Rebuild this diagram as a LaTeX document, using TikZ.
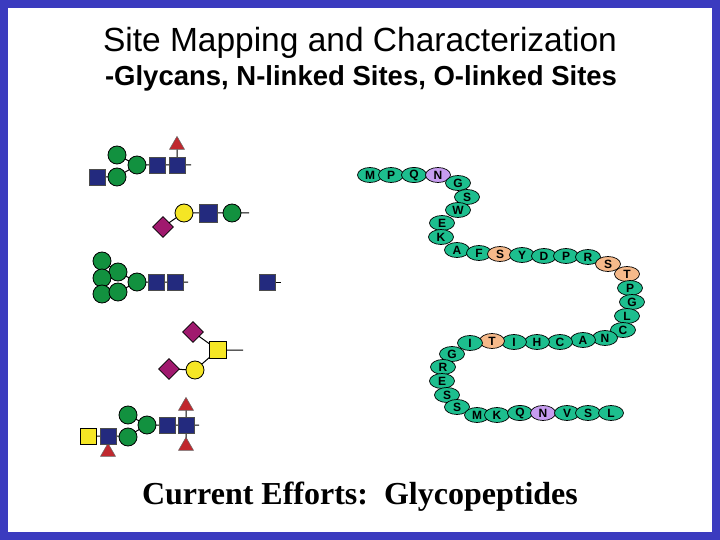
\documentclass[tikz,border=0pt]{standalone}
\usepackage{fontspec}
\setmainfont{Liberation Sans}
\newfontfamily\timesf{Liberation Serif}
\usetikzlibrary{shapes.geometric}
\definecolor{frame}{HTML}{3B3BBF}
\definecolor{aag}{HTML}{1DBE8E}
\definecolor{aao}{HTML}{F6B98A}
\definecolor{aap}{HTML}{C79CF0}
\definecolor{gsq}{HTML}{232A7E}
\definecolor{ggr}{HTML}{12913F}
\definecolor{gye}{HTML}{F5E625}
\definecolor{gdi}{HTML}{A0196E}
\definecolor{gtr}{HTML}{C0282E}
\begin{document}
\begin{tikzpicture}[x=1pt,y=-1pt,
 aa/.style={ellipse,draw=black,line width=0.7pt,fill=aag,minimum width=25pt,minimum height=15pt,inner sep=0pt,font=\bfseries\fontsize{12}{12}\selectfont},
 aao/.style={aa,fill=aao}, aap/.style={aa,fill=aap},
 sq/.style={rectangle,draw=black!70,line width=0.8pt,fill=gsq,minimum size=16pt,inner sep=0pt},
 ysq/.style={sq,fill=gye,draw=black},
 gc/.style={circle,draw=black,line width=0.8pt,fill=ggr,minimum size=18pt,inner sep=0pt},
 yc/.style={gc,fill=gye},
 di/.style={diamond,draw=black,line width=0.8pt,fill=gdi,minimum size=21pt,inner sep=0pt},
 tri/.style={isosceles triangle,shape border rotate=90,draw=black!60,line width=0.5pt,fill=gtr,minimum width=15pt,minimum height=13pt,inner sep=0pt,isosceles triangle apex angle=60},
 ln/.style={line width=1pt}]
\useasboundingbox (0,0) rectangle (720,540);
\draw[frame,line width=8pt] (4,4) rectangle (716,536);
\node (t1) at (360,43) {\fontsize{33.5}{33.5}\selectfont Site Mapping and Characterization};
\node (t2) at (361,78) {\bfseries\fontsize{27.5}{27.5}\selectfont -Glycans, N-linked Sites, O-linked Sites};
\node (t3) at (360,497) {\timesf\bfseries\fontsize{32}{32}\selectfont Current Efforts:\ \ Glycopeptides};
% glycan 1
\coordinate (e1) at (191,165);
\node[tri] (a6) at (177,145) {};
\draw[ln] (117,155) -- (137,165) -- (117,177) -- (97,177) (137,165) -- (e1) (177,165) -- (a6);
\node[sq] (a1) at (97,177) {};
\node[gc] (a2) at (117,177) {};
\node[gc] (a3) at (117,155) {};
\node[gc] (a4) at (137,165) {};
\node[sq] (a5) at (157,165) {};
\node[sq] (a7) at (177,165) {};
% glycan 2
\coordinate (e2) at (249,213);
\draw[ln] (163,227) -- (183,213) -- (e2);
\node[di] (b1) at (163,227) {};
\node[yc] (b2) at (184,213) {};
\node[sq,minimum size=18pt] (b3) at (208,213) {};
\node[gc] (b4) at (232,213) {};
% glycan 3
\coordinate (e3) at (188,282);
\draw[ln] (102,261) -- (118,272) -- (137,282) -- (e3) (102,278) -- (118,272) (102,294) -- (118,292) -- (137,282);
\node[gc] (c1) at (102,261) {};
\node[gc] (c2) at (118,272) {};
\node[gc] (c3) at (102,278) {};
\node[gc] (c4) at (102,294) {};
\node[gc] (c5) at (118,292) {};
\node[gc] (c6) at (137,282) {};
\node[sq] (c7) at (156,282) {};
\node[sq] (c8) at (175,282) {};
\coordinate (e4) at (281,282);
\draw[ln] (267,282) -- (e4);
\node[sq] (c9) at (267,282) {};
% glycan 4
\coordinate (e5) at (243,350);
\draw[ln] (193,332) -- (218,350) -- (e5) (218,350) -- (195,370) -- (169,369);
\node[di] (d1) at (193,332) {};
\node[ysq,minimum size=17pt] (d2) at (218,350) {};
\node[yc] (d3) at (195,370) {};
\node[di] (d4) at (169,369) {};
% glycan 5
\coordinate (e6) at (199,425);
\draw[ln] (88,436) -- (128,436) -- (147,425) -- (e6) (128,415) -- (147,425) (108,436) -- (108,453) (186,406) -- (186,447);
\node[tri] (f1) at (186,406) {};
\node[tri] (f2) at (186,446) {};
\node[tri] (f3) at (108,452) {};
\node[ysq] (f4) at (88,436) {};
\node[sq] (f5) at (108,436) {};
\node[gc] (f6) at (128,437) {};
\node[gc] (f7) at (128,415) {};
\node[gc] (f8) at (147,425) {};
\node[sq] (f9) at (167,425) {};
\node[sq] (f10) at (186,425) {};
% peptide
\foreach \n/\s/\x/\y/\l in {
p1/aa/370/175/M, p2/aa/391/175/P, p3/aa/414/175/Q, p4/aap/438/175/N,
p5/aa/458/183/G, p6/aa/467/197/S, p7/aa/458/210/W, p8/aa/442/223/E,
p9/aa/441/237/K, p10/aa/457/250/A, p11/aa/479/253/F, p12/aao/500/254/S,
p13/aa/522/255/Y, p14/aa/544/256/D, p15/aa/566/256/P, p16/aa/588/257/R,
p17/aao/608/264/S, p18/aao/627/274/T, p19/aa/630/288/P, p20/aa/632/302/G,
p21/aa/627/316/L, p22/aa/623/330/C, p23/aa/605/338/N, p24/aa/583/340/A,
p25/aa/560/342/C, p26/aa/537/342/H, p27/aa/514/342/I, p28/aao/492/341/T,
p29/aa/470/343/I, p30/aa/452/354/G, p31/aa/443/367/R, p32/aa/442/381/E,
p33/aa/447/395/S, p34/aa/457/407/S, p35/aa/477/415/M, p36/aa/497/415/K,
p37/aa/520/413/Q, p38/aap/543/413/N, p39/aa/567/413/V, p40/aa/588/413/S,
p41/aa/611/413/L}
{ \node[\s] (\n) at (\x,\y) {\l}; }
\end{tikzpicture}
\end{document}
